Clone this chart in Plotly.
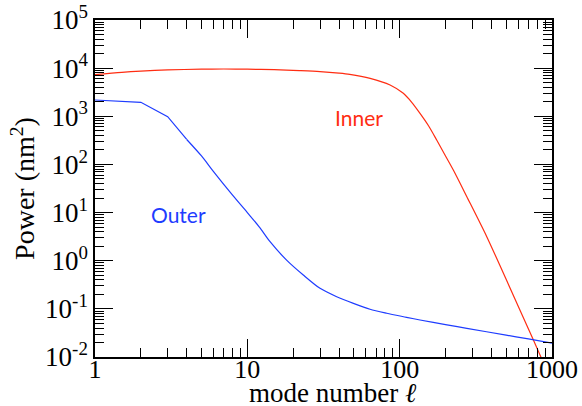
import plotly.graph_objects as go

# Inner curve
inner_l = [1, 1.5, 2, 3, 5, 7, 10, 15, 22, 30, 40, 47, 64, 86.5, 105.7, 120, 136, 155, 175, 200, 225, 276, 373, 500, 755, 1000]
inner_p = [7300, 8200, 8700, 9200, 9500, 9600, 9500, 9300, 8900, 8500, 7900, 7450, 6150, 4470, 3000, 1950, 1150, 630, 322, 150, 76.6, 21.4, 3.16, 0.41, 0.0225, 0.003]

# Outer curve
outer_l = [1, 2, 3, 4, 5, 6, 8, 10, 12, 14.1, 18.1, 23.3, 30, 38.6, 49.7, 63.9, 82.3, 111, 136, 200, 276, 500, 700, 1000]
outer_p = [2180, 1950, 980, 330, 150, 71, 23, 10, 5.0, 2.48, 1.03, 0.505, 0.267, 0.179, 0.130, 0.098, 0.081, 0.0668, 0.0587, 0.047, 0.0394, 0.0285, 0.0237, 0.0195]

x_ticks = [1, 10, 100, 1000]
x_ticktext = ["1", "10", "100", "1000"]
y_exps = [-2, -1, 0, 1, 2, 3, 4, 5]
y_ticks = [10.0 ** e for e in y_exps]
y_ticktext = ["10<sup>%d</sup>" % e for e in y_exps]

RED = "#ff2d12"
BLUE = "#1e3cff"
FONT = "Liberation Serif"

fig = go.Figure()
fig.add_trace(go.Scatter(x=inner_l, y=inner_p, mode="lines",
                         line=dict(color=RED, width=1.2, shape="spline", smoothing=0.8),
                         showlegend=False))
# outer: straight segments at the lowest modes, smooth afterwards
fig.add_trace(go.Scatter(x=outer_l[:4], y=outer_p[:4], mode="lines",
                         line=dict(color=BLUE, width=1.2), showlegend=False))
fig.add_trace(go.Scatter(x=outer_l[3:], y=outer_p[3:], mode="lines",
                         line=dict(color=BLUE, width=1.2, shape="spline", smoothing=0.8),
                         showlegend=False))

x_minor = [k * 10 ** d for d in range(0, 3) for k in range(2, 10)]
y_minor = [k * 10.0 ** d for d in range(-2, 5) for k in range(2, 10)]

axis_common = dict(
    type="log", showgrid=False, zeroline=False, automargin=False,
    showline=True, linecolor="black", linewidth=1.5, mirror="ticks",
    ticks="inside", ticklen=18, tickwidth=1, tickcolor="black",
)

fig.update_xaxes(
    **axis_common, range=[0, 3], tickmode="array", tickvals=x_ticks, ticktext=x_ticktext,
    tickfont=dict(family=FONT, size=26, color="black"), ticklabelstandoff=-12,
    minor=dict(tickmode="array", tickvals=x_minor, ticks="inside", ticklen=9,
               tickwidth=1, tickcolor="black", showgrid=False),
)
fig.update_yaxes(
    **axis_common, range=[-2, 5], tickmode="array", tickvals=y_ticks, ticktext=y_ticktext,
    tickfont=dict(family=FONT, size=27, color="black"),
    minor=dict(tickmode="array", tickvals=y_minor, ticks="inside", ticklen=9,
               tickwidth=1, tickcolor="black", showgrid=False),
    title=dict(text="Power (nm<sup>2</sup>)", font=dict(family=FONT, size=28, color="black"), standoff=2),
)

# x axis title placed below the tick labels
fig.add_annotation(x=0.52, y=-0.107, xref="paper", yref="paper", text="mode number <i>ℓ</i>",
                   showarrow=False, xanchor="center", yanchor="middle",
                   font=dict(family=FONT, size=27, color="black"))

fig.add_annotation(x=1.733, y=2.965, xref="x", yref="y", text="Inner", showarrow=False,
                   font=dict(family="Lato", size=21, color=RED))
fig.add_annotation(x=0.545, y=0.970, xref="x", yref="y", text="Outer", showarrow=False,
                   font=dict(family="Lato", size=21, color=BLUE))

fig.update_layout(
    width=582, height=406,
    margin=dict(l=95, r=30, t=20, b=49),
    paper_bgcolor="white", plot_bgcolor="white",
)

fig.write_html("out.html", config={"displayModeBar": False},
               post_script="document.body.style.margin='0';document.body.style.overflow='hidden';")
